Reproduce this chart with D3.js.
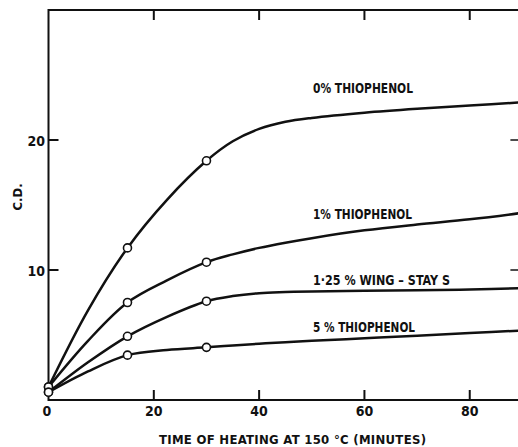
<!DOCTYPE html>
<html>
<head>
<meta charset="utf-8">
<script src="https://cdn.jsdelivr.net/npm/d3@7"></script>
<style>
  body { margin: 0; background: #fff; }
  text { font-family: "DejaVu Sans Condensed", "DejaVu Sans", sans-serif; font-weight: bold; fill: #111; }
</style>
</head>
<body>
<div id="chart"></div>
<script>
// minutes of heating at 150 °C
const times = [0, 7.5, 15, 22.5, 30, 35, 40, 45, 50, 60, 70, 80, 90];
// C.D. values
const cd0 = [1.0, 6.9, 11.7, 15.4, 18.4, 19.9, 20.85, 21.4, 21.7, 22.1, 22.4, 22.65, 22.9];
const cd1 = [1.0, 4.55, 7.5, 9.2, 10.6, 11.2, 11.7, 12.1, 12.45, 13.05, 13.5, 13.9, 14.4];
const cd125 = [0.6, 2.9, 4.9, 6.4, 7.6, 8.0, 8.22, 8.3, 8.35, 8.4, 8.45, 8.5, 8.6];
const cd5 = [0.6, 2.2, 3.45, 3.85, 4.05, 4.2, 4.33, 4.45, 4.55, 4.75, 4.95, 5.15, 5.35];
const markedTimes = [0, 15, 30];
const seriesNames = ["0% THIOPHENOL", "1% THIOPHENOL", "1·25 % WING – STAY S", "5 % THIOPHENOL"];
const xTicks = [0, 20, 40, 60, 80];
const yTicks = [10, 20];

const width = 518, height = 447;
const x = d3.scaleLinear().domain([0, 90]).range([48.5, 522.4]);
const y = d3.scaleLinear().domain([0, 30]).range([400, 10]);

const svg = d3.select("#chart")
      .append("svg")
      .attr("width", width)
      .attr("height", height);

// frame
svg.append("rect")
    .attr("x", x(0))
    .attr("y", y(30))
    .attr("width", x(90) - x(0))
    .attr("height", y(0) - y(30))
    .attr("fill", "none")
    .attr("stroke", "#111")
    .attr("stroke-width", 2);

// inward ticks on all four sides
const tickLen = 10;
const innerX = xTicks.filter(d => d > 0);
svg.selectAll("line.xb")
    .data(innerX)
    .enter()
    .append("line")
    .attr("class", "xb")
    .attr("x1", d => x(d)).attr("x2", d => x(d))
    .attr("y1", y(0)).attr("y2", y(0) - tickLen)
    .attr("stroke", "#111").attr("stroke-width", 2);
svg.selectAll("line.xt")
    .data(innerX)
    .enter()
    .append("line")
    .attr("class", "xt")
    .attr("x1", d => x(d)).attr("x2", d => x(d))
    .attr("y1", y(30)).attr("y2", y(30) + tickLen)
    .attr("stroke", "#111").attr("stroke-width", 2);
svg.selectAll("line.yl")
    .data(yTicks)
    .enter()
    .append("line")
    .attr("class", "yl")
    .attr("x1", x(0)).attr("x2", x(0) + tickLen)
    .attr("y1", d => y(d)).attr("y2", d => y(d))
    .attr("stroke", "#111").attr("stroke-width", 2);
svg.selectAll("line.yr")
    .data(yTicks)
    .enter()
    .append("line")
    .attr("class", "yr")
    .attr("x1", x(90)).attr("x2", x(90) - tickLen - 2)
    .attr("y1", d => y(d)).attr("y2", d => y(d))
    .attr("stroke", "#111").attr("stroke-width", 1.5);

// tick labels
svg.selectAll("text.xl")
    .data(xTicks)
    .enter()
    .append("text")
    .attr("class", "xl")
    .attr("x", d => x(d) - (d === 0 ? 1.5 : 0))
    .attr("y", 416)
    .attr("text-anchor", "middle")
    .attr("font-size", 14)
    .text(d => d);
svg.selectAll("text.yl")
    .data(yTicks)
    .enter()
    .append("text")
    .attr("class", "yl")
    .attr("x", 45)
    .attr("y", d => y(d) + 5.5)
    .attr("text-anchor", "end")
    .attr("font-size", 14)
    .text(d => d);

// axis titles
svg.append("text")
    .attr("x", 159)
    .attr("y", 444)
    .attr("font-size", 13)
    .attr("textLength", 267)
    .attr("lengthAdjust", "spacing")
    .text("TIME OF HEATING AT 150 °C (MINUTES)");
svg.append("text")
    .attr("transform", "translate(22,197) rotate(-90)")
    .attr("text-anchor", "middle")
    .attr("font-size", 13)
    .text("C.D.");

// curves
const allSeries = [cd0, cd1, cd125, cd5];
const line = d3.line()
      .x(d => x(d[0]))
      .y(d => y(d[1]))
      .curve(d3.curveCatmullRom.alpha(0.5));

allSeries.forEach(function (vals, i) {
    const pts = times.map((t, j) => [t, vals[j]]);
    svg.append("path")
        .datum(pts)
        .attr("d", line)
        .attr("fill", "none")
        .attr("stroke", "#111")
        .attr("stroke-width", 2.5);
});

allSeries.forEach(function (vals, i) {
    const pts = times.map((t, j) => [t, vals[j]]).filter(p => markedTimes.includes(p[0]));
    svg.selectAll("circle.s" + i)
        .data(pts)
        .enter()
        .append("circle")
        .attr("class", "s" + i)
        .attr("cx", d => x(d[0]))
        .attr("cy", d => y(d[1]))
        .attr("r", 4)
        .attr("fill", "#fff")
        .attr("stroke", "#111")
        .attr("stroke-width", 1.6);
});

// series labels
const labelPos = [[313, 93, 100], [313, 219, 99], [313, 285, 137], [313, 332, 102]];
svg.selectAll("text.lab")
    .data(seriesNames)
    .enter()
    .append("text")
    .attr("class", "lab")
    .attr("x", (d, i) => labelPos[i][0])
    .attr("y", (d, i) => labelPos[i][1])
    .attr("font-size", 13.5)
    .attr("textLength", (d, i) => labelPos[i][2])
    .attr("lengthAdjust", "spacingAndGlyphs")
    .text(d => d);
</script>
</body>
</html>
